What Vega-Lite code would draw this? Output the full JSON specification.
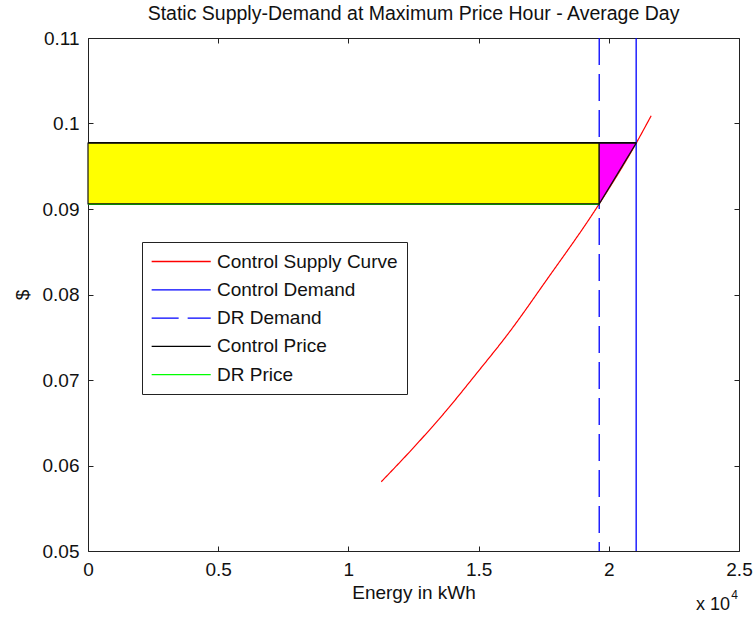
{
  "$schema": "https://vega.github.io/schema/vega-lite/v6.json",
  "width": 651,
  "height": 513,
  "autosize": {"type": "none"},
  "padding": {"left": 88, "top": 38, "right": 14, "bottom": 68},
  "background": "white",
  "title": {
    "text": "Static Supply-Demand at Maximum Price Hour - Average Day",
    "fontSize": 19.5,
    "fontWeight": "normal",
    "font": "Liberation Sans",
    "color": "#111111",
    "offset": 5
  },
  "config": {
    "view": {"stroke": "#222222", "strokeWidth": 1},
    "font": "Liberation Sans",
    "axis": {
      "grid": false,
      "domain": false,
      "tickSize": -5,
      "tickColor": "#222222",
      "labelFlush": false,
      "labelFontSize": 19,
      "labelColor": "#111111",
      "titleFontSize": 19,
      "titleFontWeight": "normal",
      "titleColor": "#111111",
      "labelFont": "Liberation Sans",
      "titleFont": "Liberation Sans"
    },
    "legend": {
      "orient": "none",
      "legendX": 54,
      "legendY": 204,
      "padding": 9,
      "strokeColor": "#222222",
      "fillColor": "white",
      "symbolType": "M-1,0H5",
      "symbolSize": 388,
      "symbolStrokeWidth": 1.3,
      "labelFontSize": 19,
      "labelFont": "Liberation Sans",
      "labelColor": "#111111",
      "labelOffset": 45,
      "labelLimit": 400,
      "rowPadding": 7.3,
      "title": null
    }
  },
  "datasets": {
    "supply": [
      {"energy": 11262, "price": 0.0581, "series": "Control Supply Curve"},
      {"energy": 12473, "price": 0.0620, "series": "Control Supply Curve"},
      {"energy": 13754, "price": 0.0664, "series": "Control Supply Curve"},
      {"energy": 14904, "price": 0.0707, "series": "Control Supply Curve"},
      {"energy": 16181, "price": 0.0756, "series": "Control Supply Curve"},
      {"energy": 17588, "price": 0.0816, "series": "Control Supply Curve"},
      {"energy": 19632, "price": 0.0906, "series": "Control Supply Curve"},
      {"energy": 21051, "price": 0.0977, "series": "Control Supply Curve"},
      {"energy": 21626, "price": 0.1009, "series": "Control Supply Curve"}
    ],
    "demand": [
      {"energy": 21051, "series": "Control Demand"},
      {"energy": 19632, "series": "DR Demand"}
    ],
    "prices": [
      {"energy": 0, "price": 0.0977, "series": "Control Price"},
      {"energy": 21051, "price": 0.0977, "series": "Control Price"},
      {"energy": 0, "price": 0.0906, "series": "DR Price"},
      {"energy": 19632, "price": 0.0906, "series": "DR Price"}
    ],
    "surplus": [
      {"from": 0, "to": 19632, "low": 0.0906, "high": 0.0977}
    ],
    "wedge": [
      {"energy": 19632, "low": 0.0906, "high": 0.0977},
      {"energy": 21051, "low": 0.0977, "high": 0.0977}
    ],
    "corner": [
      {"energy": 25000, "price": 0.05}
    ]
  },
  "layer": [
    {
      "data": {"name": "supply"},
      "mark": {"type": "line", "strokeWidth": 1.2, "interpolate": "monotone"},
      "encoding": {
        "x": {
          "field": "energy",
          "type": "quantitative",
          "scale": {"domain": [0, 25000], "nice": false, "zero": false},
          "axis": {
            "orient": "bottom",
            "values": [0, 5000, 10000, 15000, 20000, 25000],
            "labelExpr": "datum.value / 10000 + ''",
            "labelPadding": 14,
            "title": "Energy in kWh",
            "titlePadding": 4
          }
        },
        "y": {
          "field": "price",
          "type": "quantitative",
          "scale": {"domain": [0.05, 0.11], "nice": false, "zero": false},
          "axis": {
            "orient": "left",
            "values": [0.05, 0.06, 0.07, 0.08, 0.09, 0.1, 0.11],
            "format": ".2~f",
            "labelPadding": 14,
            "title": "$",
            "titlePadding": 10
          }
        },
        "color": {
          "field": "series",
          "type": "nominal",
          "scale": {
            "domain": ["Control Supply Curve", "Control Demand", "DR Demand", "Control Price", "DR Price"],
            "range": ["#ff0000", "#0000ff", "#0000ff", "#000000", "#00ff00"]
          }
        },
        "strokeDash": {
          "field": "series",
          "type": "nominal",
          "scale": {
            "domain": ["Control Supply Curve", "Control Demand", "DR Demand", "Control Price", "DR Price"],
            "range": [[1, 0], [1, 0], [27, 9], [1, 0], [1, 0]]
          }
        }
      }
    },
    {
      "data": {"name": "demand"},
      "mark": {"type": "rule", "strokeWidth": 1.3},
      "encoding": {
        "x": {
          "field": "energy",
          "type": "quantitative",
          "axis": {
            "orient": "top",
            "values": [0, 5000, 10000, 15000, 20000, 25000],
            "labels": false,
            "title": null
          }
        },
        "color": {"field": "series", "type": "nominal"},
        "strokeDash": {"field": "series", "type": "nominal"}
      }
    },
    {
      "data": {"name": "prices"},
      "mark": {"type": "line", "strokeWidth": 2.2},
      "encoding": {
        "x": {"field": "energy", "type": "quantitative", "axis": null},
        "y": {
          "field": "price",
          "type": "quantitative",
          "axis": {
            "orient": "right",
            "values": [0.05, 0.06, 0.07, 0.08, 0.09, 0.1, 0.11],
            "labels": false,
            "title": null
          }
        },
        "color": {"field": "series", "type": "nominal"},
        "strokeDash": {"field": "series", "type": "nominal"}
      }
    },
    {
      "data": {"name": "surplus"},
      "mark": {"type": "rect", "fill": "#ffff00", "stroke": "#111111", "strokeWidth": 1.2},
      "encoding": {
        "x": {"field": "from", "type": "quantitative", "axis": null},
        "x2": {"field": "to"},
        "y": {"field": "low", "type": "quantitative", "axis": null},
        "y2": {"field": "high"}
      }
    },
    {
      "data": {"name": "wedge"},
      "mark": {"type": "area", "fill": "#ff00ff", "stroke": "#111111", "strokeWidth": 1.2},
      "encoding": {
        "x": {"field": "energy", "type": "quantitative", "axis": null},
        "y": {"field": "low", "type": "quantitative", "axis": null},
        "y2": {"field": "high"}
      }
    },
    {
      "data": {"name": "corner"},
      "mark": {"type": "text", "align": "right", "baseline": "middle", "dx": -9, "dy": 54, "fontSize": 18, "color": "#111111"},
      "encoding": {
        "x": {"field": "energy", "type": "quantitative", "axis": null},
        "y": {"field": "price", "type": "quantitative", "axis": null},
        "text": {"value": "x 10"}
      }
    },
    {
      "data": {"name": "corner"},
      "mark": {"type": "text", "align": "right", "baseline": "middle", "dx": -1, "dy": 44, "fontSize": 12, "color": "#111111"},
      "encoding": {
        "x": {"field": "energy", "type": "quantitative", "axis": null},
        "y": {"field": "price", "type": "quantitative", "axis": null},
        "text": {"value": "4"}
      }
    }
  ],
  "resolve": {"axis": {"x": "independent", "y": "independent"}}
}
